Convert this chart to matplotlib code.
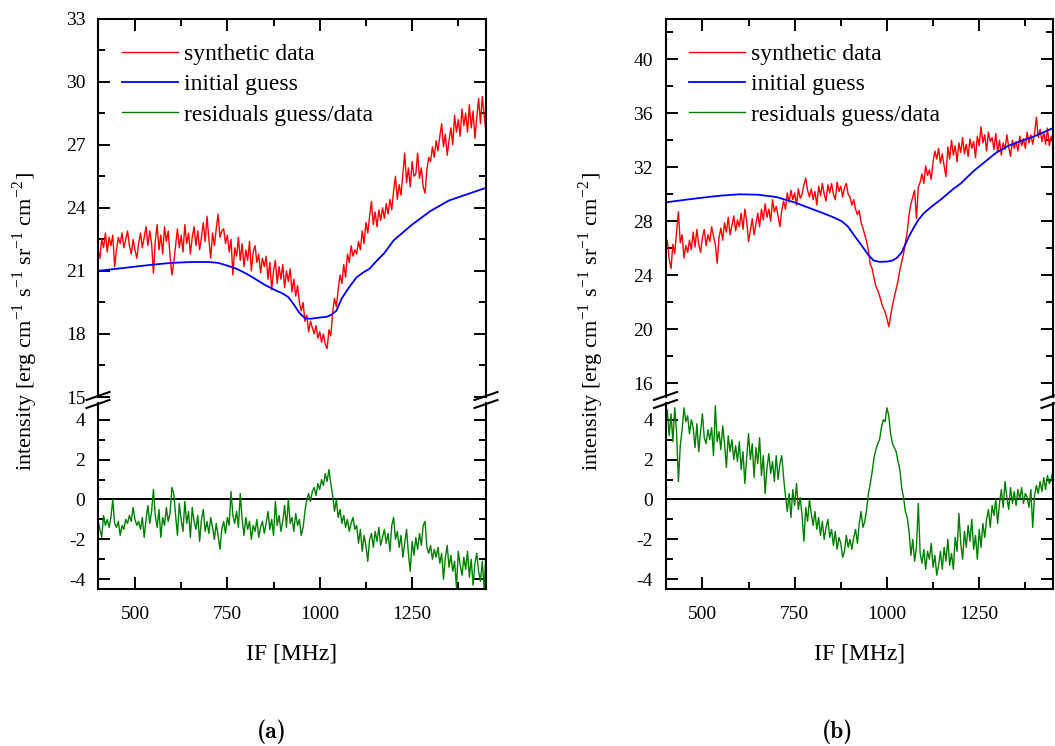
import os
import numpy as np
import matplotlib
matplotlib.use('Agg')
import matplotlib.pyplot as plt
from matplotlib.ticker import MultipleLocator
from matplotlib.lines import Line2D
from matplotlib.font_manager import FontProperties

plt.rcParams['font.family'] = ['Liberation Serif', 'DejaVu Serif']
plt.rcParams['mathtext.fontset'] = 'stix'
plt.rcParams['axes.unicode_minus'] = False

# ---------------- data ----------------
freq = np.arange(400, 1451, 5)  # IF channels [MHz]

left_data = [
    22.0, 21.6, 22.5, 22.1, 22.8, 21.9, 22.6, 22.2, 22.7, 21.2,
    22.0, 22.6, 22.3, 22.8, 22.1, 22.5, 22.9, 22.2, 21.8, 22.5,
    22.0, 21.6, 22.3, 22.8, 22.1, 22.6, 23.1, 22.2, 22.9, 22.3,
    20.9, 22.4, 23.2, 22.0, 22.7, 21.8, 23.1, 22.4, 22.9, 21.7,
    20.8, 21.4, 22.2, 23.0, 22.1, 22.7, 21.9, 23.2, 22.3, 22.8,
    21.8, 22.6, 23.1, 22.2, 22.9, 22.0, 22.6, 23.3, 22.4, 23.6,
    22.5, 21.6, 22.8, 22.2, 23.0, 23.7, 22.6, 22.9, 23.0, 22.3,
    22.7, 21.9, 22.5, 20.8, 22.1, 21.7, 22.6, 21.5, 22.3, 21.2,
    22.0, 21.5, 22.4, 21.0, 21.9, 22.2, 21.4, 21.8, 20.9, 21.6,
    21.2, 21.7, 20.6, 21.4, 20.1, 21.0, 21.5, 20.4, 21.2, 20.6,
    21.3, 20.2, 21.0, 20.5, 21.1, 20.0, 20.6, 19.8, 20.3, 19.5,
    19.1, 19.5, 18.6, 18.9, 18.1, 18.6, 18.3, 18.0, 18.4, 17.8,
    18.1, 17.6, 18.0, 17.5, 17.3, 18.2, 17.9, 19.0, 19.7, 19.3,
    20.1, 20.8, 20.4, 21.3, 20.7, 21.8, 21.4, 22.2, 21.7, 22.0,
    21.8, 22.4, 22.0, 22.9, 22.3, 23.3, 22.8, 23.6, 24.3, 23.2,
    23.8, 23.1, 23.9, 23.4, 24.0, 23.5, 24.2, 23.7, 24.4, 23.9,
    24.8, 25.5, 24.4, 25.1, 24.6, 25.6, 26.6, 25.2, 25.9, 25.0,
    26.2, 25.5, 25.6, 26.6, 25.4, 25.9, 25.0, 24.7, 25.8, 26.4,
    26.2, 26.9, 26.4, 27.2, 26.7, 27.4, 28.0, 26.9, 27.5, 26.5,
    27.2, 27.8, 27.0, 28.4, 27.6, 28.2, 27.4, 28.7, 27.9, 28.5,
    27.6, 28.9, 27.8, 28.6, 27.3, 28.3, 29.2, 28.0, 29.3, 28.4,
    27.6,
]

left_resid = [
    -1.0, -1.5, -1.9, -0.8, -1.3, -1.0, -1.4, -0.9, 0.0, -1.2,
    -1.4, -1.1, -1.8, -1.3, -1.5, -1.0, -1.2, -0.8, -1.1, -0.4,
    -1.0, -1.3, -1.1, -1.5, -0.9, -1.9, -1.0, -0.3, -1.2, -0.6,
    0.5, -0.8, -1.4, -0.5, -1.9, -0.9, -1.3, -0.4, -1.1, -0.7,
    0.6, 0.3, -0.8, -1.8, -0.2, -1.0, -1.6, -0.1, -1.2, -0.6,
    -1.9, -0.4, -1.1, -1.5, -0.8, -2.1, -1.0, -0.5, -1.6, -1.1,
    -1.7, -0.9, -1.4, -2.0, -1.2, -1.8, -2.5, -1.5, -1.1, -1.7,
    -0.9, -1.3, 0.4, -0.8, -1.2, -0.6, -1.4, 0.3, -1.0, -1.8,
    -0.9, -1.5, -1.1, -2.0, -1.3, -1.6, -1.0, -1.9, -1.4, -1.1,
    -1.7, -1.2, -0.6, -1.5, -1.0, -1.8, -0.1, -1.3, -0.8, -1.6,
    -1.1, -0.3, -1.4, 0.0, -1.2, -0.9, -1.6, -0.7, -1.3, -1.0,
    -1.8, -1.4, -0.6, 0.0, 0.3, -0.1, 0.4, 0.6, 0.2, 0.8,
    0.5, 1.0, 0.7, 1.3, 0.9, 1.5, 0.8, 0.2, -0.6, 0.0,
    -0.9, -0.5, -1.2, -0.8, -1.4, -1.0, -1.6, -1.2, -0.9, -1.5,
    -1.3, -2.2, -1.5, -2.6, -1.8, -2.3, -3.1, -2.0, -1.7, -2.4,
    -1.6, -2.1, -1.4, -2.3, -1.9, -1.5, -2.2, -1.7, -2.6, -1.3,
    -0.9, -2.0, -1.6, -2.4, -1.8, -2.9, -2.2, -1.5, -2.7, -3.6,
    -2.1, -2.8, -1.9, -2.5, -1.7, -2.3, -1.3, -1.1, -2.4, -2.7,
    -2.3, -3.0, -2.5, -2.9, -2.4, -3.2, -2.7, -4.0, -2.9, -2.3,
    -3.4, -2.8, -3.6, -3.1, -4.4, -2.6, -3.3, -3.8, -2.9, -3.5,
    -2.6, -3.9, -3.0, -4.3, -3.2, -2.7, -3.6, -4.1, -3.1, -4.5,
    -2.6,
]

left_guess_f = [400, 450, 500, 550, 600, 650, 700, 725, 750, 775, 800, 825,
                850, 875, 900, 915, 930, 945, 960, 975, 1000, 1020, 1030,
                1045, 1060, 1075, 1085, 1100, 1120, 1135, 1150, 1175, 1200,
                1250, 1300, 1350, 1400, 1450]
left_guess = [21.0, 21.1, 21.2, 21.3, 21.38, 21.42, 21.42, 21.38, 21.25, 21.1,
              20.88, 20.62, 20.35, 20.12, 19.92, 19.75, 19.4, 19.0, 18.75,
              18.72, 18.78, 18.82, 18.9, 19.1, 19.7, 20.1, 20.35, 20.7, 20.95,
              21.1, 21.4, 21.85, 22.45, 23.2, 23.85, 24.35, 24.65, 24.95]

right_data = [
    25.8, 26.6, 25.2, 24.5, 26.3, 25.6, 27.2, 28.7, 26.4, 27.0,
    25.3, 26.2, 25.7, 26.6, 25.9, 27.2, 26.1, 27.4, 26.3, 25.7,
    26.8, 27.4, 26.2, 27.0, 26.5, 27.6, 26.9, 26.3, 24.9, 26.8,
    27.5, 26.6, 27.9, 27.2, 28.3, 27.0, 27.7, 28.4, 27.3, 28.1,
    27.6, 28.6, 27.4, 28.9, 28.0, 26.5, 27.3, 28.2, 27.0, 27.8,
    28.6, 27.6, 28.9, 28.1, 29.3, 28.3, 28.9, 28.0, 29.6, 28.7,
    29.1, 28.4, 27.6, 28.8, 29.5, 28.9, 30.1, 29.4, 30.3, 29.6,
    30.1, 29.2, 30.4, 29.7, 30.0, 30.7, 31.2, 30.3, 29.8, 30.4,
    29.6, 30.2, 29.2, 30.6, 29.9, 30.8, 30.0, 29.5, 30.7, 30.1,
    30.8, 30.0, 29.6, 30.9, 30.2, 30.6, 29.8, 30.5, 30.8, 30.0,
    29.8, 29.2, 29.6, 28.9, 28.5, 28.8, 27.9, 27.5, 27.0, 26.5,
    25.8, 24.8, 24.5, 23.8, 23.2, 22.9, 22.5, 22.0, 21.6, 21.3,
    20.8, 20.2, 21.0, 21.8, 22.4, 23.0, 23.6, 24.4, 25.0, 25.6,
    26.4, 27.2, 28.5, 29.3, 29.8, 30.3, 28.2, 30.5, 30.9, 31.5,
    30.8, 32.1, 31.4, 31.8, 31.1, 32.4, 33.2, 32.6, 33.4, 32.3,
    33.0, 32.1, 31.3, 33.5, 32.6, 34.0, 32.9, 33.6, 32.4, 33.8,
    33.1, 34.2, 33.0, 33.7, 32.8, 34.1, 33.4, 33.9, 32.7, 34.3,
    33.6, 35.0, 33.8, 34.4, 33.2, 34.6, 33.9, 34.2, 33.3, 34.5,
    33.1, 34.0, 32.9, 33.8, 33.3, 34.4, 33.5, 32.8, 34.0, 33.4,
    33.9, 33.2, 34.3, 33.6, 34.1, 33.4, 34.6, 33.8, 34.4, 33.7,
    34.5, 35.7, 34.2, 34.8, 33.9, 34.6, 33.7, 34.9, 33.6, 34.3,
    33.8,
]

right_resid = [
    3.8, 4.5, 3.2, 4.3, 2.9, 4.6, 3.4, 0.9, 2.7, 3.5,
    4.6, 3.9, 4.2, 3.3, 4.0, 3.6, 2.6, 3.8, 2.4, 3.4,
    4.3, 3.1, 2.8, 3.5, 3.0, 3.6, 2.2, 4.7, 2.9, 3.4,
    2.5, 3.7, 2.8, 1.6, 3.2, 2.4, 3.0, 2.0, 2.7, 1.9,
    2.9, 1.5, 2.4, 0.8, 2.1, 3.3, 2.0, 2.8, 1.1, 2.6,
    1.8, 3.1, 1.2, 2.2, 0.3, 1.6, 2.3, 1.3, 1.9, 0.9,
    2.2, 1.0, 1.8, 2.2, 1.1, 0.2, -0.6, 0.3, -0.9, 0.5,
    -0.3, 0.8, -0.5, 0.1, -0.8, -2.1, -0.4, -1.1, 0.0, -0.7,
    -1.3, -0.6, -1.5, -0.9, -1.8, -1.1, -2.0, -1.4, -1.0, -1.9,
    -1.5, -2.3, -1.6, -2.5, -1.9, -2.2, -2.9, -2.6, -1.8, -2.4,
    -2.0, -2.5, -1.9, -1.5, -2.2, -1.2, -0.6, -1.4, -1.1, -0.5,
    0.3, 0.8, 1.4, 2.1, 2.5, 2.8, 3.0, 3.6, 4.0, 3.9,
    4.6, 4.2, 3.3, 2.8, 2.6, 2.4, 1.9, 1.5, 0.6, 0.1,
    -0.6, -0.9, -1.6, -2.8, -2.0, -3.1, -2.4, -0.2, -2.7, -3.2,
    -2.5, -3.5, -2.6, -3.0, -2.2, -3.4, -2.8, -3.8, -3.3, -2.6,
    -3.5, -2.4, -3.1, -2.0, -3.3, -2.7, -3.5, -1.9, -2.6, -0.7,
    -2.2, -3.0, -1.6, -2.4, -1.3, -2.1, -1.0, -2.5, -1.8, -3.0,
    -1.5, -2.4, -1.2, -1.9, -1.0, -0.5, -1.4, -0.3, -0.8, 0.0,
    -1.2, -0.2, 0.5, -0.4, 0.9, 0.1, -0.5, 0.6, -0.2, 0.4,
    -0.3, 0.5, 0.0, 0.6, -0.2, 0.3, 0.1, -0.4, 0.5, -1.4,
    0.2, 0.7, 0.3, 0.9, 0.4, 1.1, 0.5, 1.2, 0.8, 1.0,
    1.5,
]

right_guess_f = [400, 450, 500, 550, 600, 650, 700, 750, 775, 800, 830, 855,
                 878, 895, 910, 925, 937, 950, 964, 980, 1000, 1015, 1027,
                 1040, 1050, 1060, 1072, 1085, 1100, 1117, 1150, 1180, 1200,
                 1234, 1270, 1297, 1330, 1369, 1400, 1450]
right_guess = [29.4, 29.58, 29.75, 29.9, 30.0, 29.97, 29.8, 29.4, 29.14,
               28.88, 28.57, 28.3, 28.0, 27.6, 27.0, 26.45, 26.0, 25.5, 25.1,
               25.0, 25.02, 25.1, 25.3, 25.7, 26.3, 26.9, 27.5, 28.1, 28.6,
               29.0, 29.7, 30.4, 30.8, 31.7, 32.5, 33.1, 33.6, 34.0, 34.3,
               34.9]

labels = ['synthetic data', 'initial guess', 'residuals guess/data']
ylabel = (r'intensity [erg cm$^{\mathregular{-1}}$ s$^{\mathregular{-1}}$ '
          r'sr$^{\mathregular{-1}}$ cm$^{\mathregular{-2}}$]')

# ---------------- layout ----------------
W, H = 1055, 746
fig = plt.figure(figsize=(W / 100, H / 100), dpi=100)

cmb = os.path.join(matplotlib.get_data_path(), 'fonts', 'ttf', 'cmb10.ttf')
tag_font = FontProperties(fname=cmb, size=17) if os.path.exists(cmb) \
    else FontProperties(family='DejaVu Serif', weight='bold', size=17)


def rect(x0, x1, ytop, ybot):
    return [x0 / W, 1 - ybot / H, (x1 - x0) / W, (ybot - ytop) / H]


TOP, UBOT, LTOP, BOT = 18.6, 397, 403, 589
panels = [
    dict(x0=98, x1=486, ylim=(15, 33), major=3, minor=1.5,
         data=left_data, resid=left_resid, gf=left_guess_f, g=left_guess,
         tag='(a)', tagx=272, ylabx=25),
    dict(x0=665.5, x1=1053, ylim=(15, 43), major=4, minor=2,
         data=right_data, resid=right_resid, gf=right_guess_f, g=right_guess,
         tag='(b)', tagx=838, ylabx=591),
]

LW_SP = 1.5
for p in panels:
    axu = fig.add_axes(rect(p['x0'], p['x1'], TOP, UBOT))
    axl = fig.add_axes(rect(p['x0'], p['x1'], LTOP, BOT))

    lr, = axu.plot(freq, p['data'], color='#ff0000', lw=1.0)
    lb, = axu.plot(p['gf'], p['g'], color='#0000ff', lw=1.3)
    axl.axhline(0, color='black', lw=1.4)
    lg, = axl.plot(freq, p['resid'], color='#008000', lw=1.0)

    for ax in (axu, axl):
        ax.set_xlim(400, 1450)
        for s in ax.spines.values():
            s.set_linewidth(LW_SP)
        ax.xaxis.set_major_locator(MultipleLocator(250))
        ax.xaxis.set_minor_locator(MultipleLocator(125))
        ax.tick_params(which='major', direction='in', length=8.6, width=1.4,
                       labelsize=14)
        ax.tick_params(which='minor', direction='in', length=4.7, width=1.4)
        ax.tick_params(axis='y', which='both', left=True, right=True)
        ax.tick_params(axis='y', pad=9)
        ax.tick_params(axis='x', pad=12.3)

    axu.set_ylim(*p['ylim'])
    axu.yaxis.set_major_locator(MultipleLocator(p['major']))
    axu.yaxis.set_minor_locator(MultipleLocator(p['minor']))
    axu.spines['bottom'].set_visible(False)
    axu.tick_params(axis='x', which='both', top=True, bottom=False,
                    labelbottom=False, labeltop=False)

    axl.set_ylim(-4.49, 4.84)
    axl.yaxis.set_major_locator(MultipleLocator(2))
    axl.yaxis.set_minor_locator(MultipleLocator(1))
    axl.spines['top'].set_visible(False)
    axl.tick_params(axis='x', which='both', top=False, bottom=True)

    axu.legend([lr, lb, lg], labels, loc='upper left',
               bbox_to_anchor=(0.061, 0.934), frameon=False, fontsize=17,
               handlelength=2.37, handletextpad=0.25, labelspacing=0.37,
               borderpad=0, borderaxespad=0)

    # axis break marks
    for xs in (p['x0'], p['x1']):
        for yc in (396, 404):
            fig.add_artist(Line2D([(xs - 11.5) / W, (xs + 11.5) / W],
                                  [1 - (yc + 4) / H, 1 - (yc - 4) / H],
                                  color='black', lw=1.5,
                                  transform=fig.transFigure))

    fig.text(p['ylabx'] / W, 1 - 321.5 / H, ylabel, rotation=90,
             ha='center', va='center', fontsize=16)
    fig.text((p['x0'] + p['x1']) / 2 / W, 1 - 654 / H, 'IF [MHz]',
             ha='center', va='center', fontsize=17)
    fig.text(p['tagx'] / W, 1 - 732 / H, p['tag'],
             ha='center', va='center', fontproperties=tag_font)

fig.savefig('out.png', dpi=100)
